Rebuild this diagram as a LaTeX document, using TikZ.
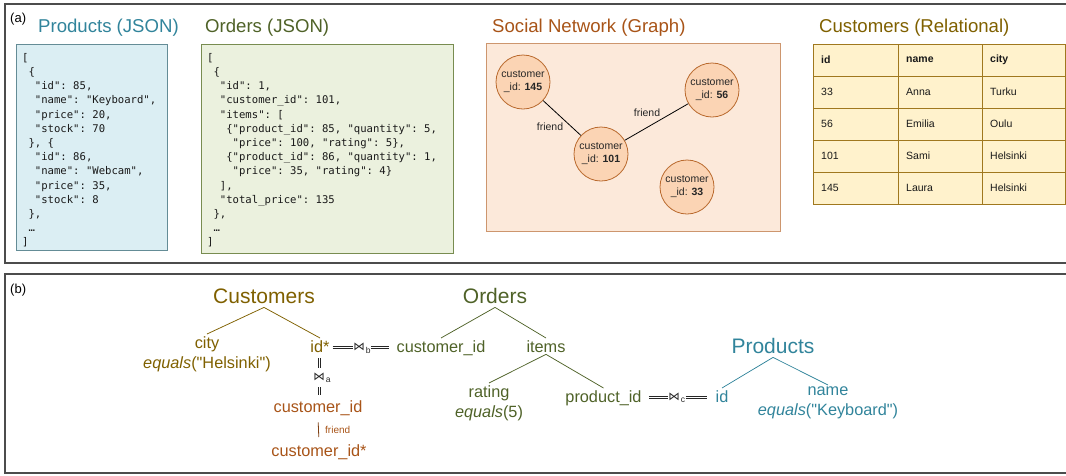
\documentclass[tikz,border=0pt]{standalone}
\usepackage{fontspec}
\setmainfont{Liberation Sans}[Ligatures=TeXOff]
\setmonofont{DejaVu Sans Mono}
\newfontfamily\djv{DejaVu Sans}
\usetikzlibrary{calc}
\definecolor{custC}{RGB}{127,96,0}
\definecolor{ordC}{RGB}{79,98,40}
\definecolor{prodC}{RGB}{49,132,155}
\definecolor{grC}{RGB}{168,84,24}
\definecolor{prodFill}{RGB}{219,238,243}
\definecolor{prodLine}{RGB}{100,140,150}
\definecolor{ordFill}{RGB}{235,241,222}
\definecolor{ordLine}{RGB}{120,140,80}
\definecolor{grFill}{RGB}{252,233,218}
\definecolor{grLine}{RGB}{205,150,110}
\definecolor{nodeFill}{RGB}{251,212,180}
\definecolor{nodeLine}{RGB}{185,105,45}
\definecolor{tabFill}{RGB}{255,242,204}
\definecolor{tabLine}{RGB}{160,120,30}
\newcommand\pd[1]{\hspace*{\dimexpr #1em*602/1000\relax}}
% horizontal and vertical double rules between two named coordinates
\newcommand\hdbl[2]{\draw[jl] ([yshift=1.2pt]#1) -- ([yshift=1.2pt]#2); \draw[jl] ([yshift=-1.2pt]#1) -- ([yshift=-1.2pt]#2);}
\newcommand\vdbl[2]{\draw[jl] ([xshift=1.2pt]#1) -- ([xshift=1.2pt]#2); \draw[jl] ([xshift=-1.2pt]#1) -- ([xshift=-1.2pt]#2);}
\begin{document}
\begin{tikzpicture}[x=1pt,y=-1pt,
 panel/.style={draw=black!70, line width=1.3pt},
 ttl/.style={font=\fontsize{18.6}{22}\selectfont, inner sep=0, anchor=base west},
 json/.style={font=\ttfamily\fontsize{10.6}{14.2}\selectfont, align=left, inner sep=0, anchor=north west, text=black!90},
 gnode/.style={circle, draw=nodeLine, fill=nodeFill, line width=0.8pt, minimum size=54pt, inner sep=0, align=center, font=\fontsize{10.5}{13}\selectfont, text=black!85},
 glab/.style={font=\fontsize{10.5}{12}\selectfont, text=black!85, inner sep=0},
 cell/.style={anchor=west, font=\fontsize{10.5}{12}\selectfont, inner sep=0, text=black!90},
 tree/.style={font=\fontsize{21}{24}\selectfont, inner sep=4pt, anchor=base},
 fld/.style={font=\fontsize{16.3}{20}\selectfont, inner sep=2pt},
 jl/.style={line width=0.6pt, draw=black!85},
 jn/.style={font=\djv\fontsize{11.5}{12}\selectfont, inner sep=0.3pt, text=black!85},
 sub/.style={font=\fontsize{8.5}{9}\selectfont, inner sep=0.3pt, anchor=west, text=black!85},
 tl/.style={line width=0.75pt}
]
\useasboundingbox (0,0) rectangle (1066,475);
% panels
\draw[panel] (5,4) rectangle (1080,263);
\draw[panel] (5,274) rectangle (1080,473);
\node[font=\fontsize{13}{15}\selectfont, inner sep=0, anchor=base west] (pa) at (10,22) {(a)};
\node[font=\fontsize{13}{15}\selectfont, inner sep=0, anchor=base west] (pb) at (10,293) {(b)};

% Products JSON
\node[ttl, text=prodC] (tprod) at (38,32) {Products (JSON)};
\draw[draw=prodLine, fill=prodFill, line width=0.8pt] (16,44) rectangle (167,250);
\node[json] (jprod) at (22,53) {[\\
\pd1\{\\
\pd2"id": 85,\\
\pd2"name": "Keyboard",\\
\pd2"price": 20,\\
\pd2"stock": 70\\
\pd1\}, \{\\
\pd2"id": 86,\\
\pd2"name": "Webcam",\\
\pd2"price": 35,\\
\pd2"stock": 8\\
\pd1\},\\
\pd1…\\
]};

% Orders JSON
\node[ttl, text=ordC] (tord) at (205,32) {Orders (JSON)};
\draw[draw=ordLine, fill=ordFill, line width=0.8pt] (201,44) rectangle (453,253);
\node[json] (jord) at (207,53) {[\\
\pd1\{\\
\pd2"id": 1,\\
\pd2"customer\_id": 101,\\
\pd2"items": [\\
\pd3\{"product\_id": 85, "quantity": 5,\\
\pd4"price": 100, "rating": 5\},\\
\pd3\{"product\_id": 86, "quantity": 1,\\
\pd4"price": 35, "rating": 4\}\\
\pd2],\\
\pd2"total\_price": 135\\
\pd1\},\\
\pd1…\\
]};

% Social network
\node[ttl, text=grC] (tgr) at (492,32) {Social Network (Graph)};
\draw[draw=grLine, fill=grFill, line width=0.8pt] (486,43) rectangle (780,231);
\node[gnode] (c145) at (523,82) {customer\\\_id: \textbf{145}};
\node[gnode] (c56) at (712,90) {customer\\\_id: \textbf{56}};
\node[gnode] (c101) at (601,154) {customer\\\_id: \textbf{101}};
\node[gnode] (c33) at (687,187) {customer\\\_id: \textbf{33}};
\draw[line width=0.8pt] (c145) -- (c101);
\draw[line width=0.8pt] (c101) -- (c56);
\node[glab] (f1) at (550,127) {friend};
\node[glab] (f2) at (647,113) {friend};

% Customers table
\node[ttl, text=custC] (tcus) at (819,32) {Customers (Relational)};
\draw[draw=tabLine, fill=tabFill, line width=0.8pt] (813,44) rectangle (1065,204);
\foreach \yy in {76,108,140,172} \draw[tabLine, line width=0.8pt] (813,\yy) -- (1065,\yy);
\foreach \xx in {898,982} \draw[tabLine, line width=0.8pt] (\xx,44) -- (\xx,204);
\node[cell] (h1) at (821,60) {\textbf{id}};
\node[cell] (h2) at (906,60) {\textbf{name}};
\node[cell] (h3) at (990,60) {\textbf{city}};
\foreach \yy/\ii/\nn/\cc [count=\k] in {92/33/Anna/Turku, 124/56/Emilia/Oulu, 156/101/Sami/Helsinki, 188/145/Laura/Helsinki} {
  \node[cell] (r\k-a) at (821,\yy) {\ii};
  \node[cell] (r\k-b) at (906,\yy) {\nn};
  \node[cell] (r\k-c) at (990,\yy) {\cc};
}

% ---------- panel (b) ----------
% Customers tree
\node[tree, text=custC] (cust) at (264,303) {Customers};
\node[fld, text=custC, anchor=north, align=center] (city) at (207,334) {city\\\textit{equals}("Helsinki")};
\node[fld, text=custC, anchor=base] (idstar) at (320,352) {id*};
\draw[tl, custC] (cust.south) -- (city.north);
\draw[tl, custC] (cust.south) -- (idstar.north);

% Orders tree
\node[tree, text=ordC] (ord) at (495,303) {Orders};
\node[fld, text=ordC, anchor=base] (ocid) at (441,352) {customer\_id};
\node[fld, text=ordC, anchor=base] (items) at (546,352) {items};
\node[fld, text=ordC, anchor=north, align=center] (rating) at (489,383) {rating\\\textit{equals}(5)};
\node[fld, text=ordC, anchor=base] (prid) at (603.5,402) {product\_id};
\draw[tl, ordC] (ord.south) -- (ocid.north);
\draw[tl, ordC] (ord.south) -- (items.north);
\draw[tl, ordC] (items.south) -- (rating.north);
\draw[tl, ordC] (items.south) -- (prid.north);

% Products tree
\node[tree, text=prodC] (prod) at (773,353) {Products};
\node[fld, text=prodC, anchor=base] (pid) at (722,402) {id};
\node[fld, text=prodC, anchor=north, align=center] (pname) at (828,385) {name\\\textit{equals}("Keyboard")};
\draw[tl, prodC] (prod.south) -- (pid.north);
\draw[tl, prodC] (prod.south) -- (pname.north);

% Graph path
\node[fld, text=grC, anchor=base] (gcid) at (318,412) {customer\_id};
\node[fld, text=grC, anchor=base] (gcid2) at (319,456) {customer\_id*};
\draw[line width=0.8pt, grC!75!black, shorten <=5pt, shorten >=5pt] (gcid.south) -- (gcid2.north);
\node[glab, text=grC, anchor=base west, font=\fontsize{10}{12}\selectfont] (fr) at (325,433) {friend};

% joins
\node[jn] (jb) at (359,347) {⋈};
\node[sub] (jbs) at ($(jb.east)+(0,3)$) {b};
\coordinate (b1) at ($(jb.west -| idstar.east)+(1,0)$);
\coordinate (b2) at (jb.west);
\coordinate (b3) at (jbs.east |- jb.east);
\coordinate (b4) at ($(jb.east -| ocid.west)+(-5,0)$);
\hdbl{b1}{b2}
\hdbl{b3}{b4}

\node[jn] (ja) at (319,377) {⋈};
\node[sub] (jas) at ($(ja.east)+(0,3)$) {a};
\coordinate (a1) at (319,358);
\coordinate (a2) at (319,368);
\coordinate (a3) at (319,387);
\coordinate (a4) at (319,395);
\vdbl{a1}{a2}
\vdbl{a3}{a4}

\node[jn] (jc) at (674,397) {⋈};
\node[sub] (jcs) at ($(jc.east)+(0,3)$) {c};
\coordinate (c1) at ($(jc.west -| prid.east)+(5,0)$);
\coordinate (c2) at (jc.west);
\coordinate (c3) at (jcs.east |- jc.east);
\coordinate (c4) at ($(jc.east -| pid.west)+(-6,0)$);
\hdbl{c1}{c2}
\hdbl{c3}{c4}
\end{tikzpicture}
\end{document}
